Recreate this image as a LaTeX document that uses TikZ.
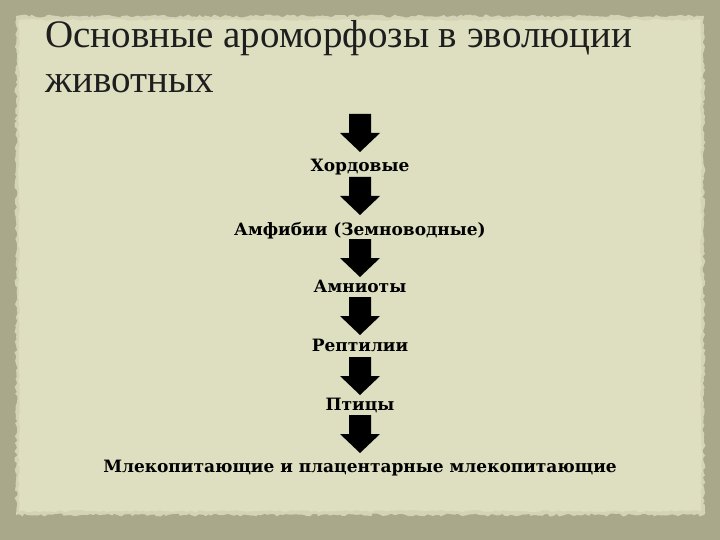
\documentclass[tikz,border=0pt]{standalone}
\usepackage{fontspec}
\setmainfont{DejaVu Serif}
\newfontfamily\titlefont{Liberation Serif}
\usetikzlibrary{decorations.pathmorphing}
\definecolor{paper}{RGB}{222,222,192}
\definecolor{framecol}{RGB}{170,168,138}
\definecolor{titlecol}{RGB}{30,30,30}
\begin{document}
\begin{tikzpicture}[x=1pt,y=-1pt,
  lbl/.style={font=\bfseries\fontsize{17}{19}\selectfont, anchor=base, inner sep=0pt},
  ttl/.style={font=\titlefont\fontsize{39}{40}\selectfont, text=titlecol, anchor=base west, inner sep=0pt},
  downarrow/.pic={\fill[black] (-11,0) -- (11,0) -- (11,19) -- (20,19) -- (0,38) -- (-20,19) -- (-11,19) -- cycle;}]
\useasboundingbox (0,0) rectangle (720,540);
\fill[framecol] (0,0) rectangle (720,540);
\pgfmathsetseed{7}
\fill[paper!80!framecol, decorate, decoration={random steps, segment length=3pt, amplitude=1.5pt}] (16,16) rectangle (704,515);
\fill[paper, decorate, decoration={random steps, segment length=4pt, amplitude=1pt}] (19,20) rectangle (701,511);
\node[ttl] (t1) at (45,48) {Основные ароморфозы в эволюции};
\node[ttl] (t2) at (45,93) {животных};
\coordinate (a1) at (360,114);
\coordinate (a2) at (360,177);
\coordinate (a3) at (360,239);
\coordinate (a4) at (360,297);
\coordinate (a5) at (360,357);
\coordinate (a6) at (360,415);
\foreach \a in {a1,a2,a3,a4,a5,a6} \path (\a) pic {downarrow};
\node[lbl] (n1) at (360,172) {Хордовые};
\node[lbl] (n2) at (360,236) {Амфибии (Земноводные)};
\node[lbl] (n3) at (360,292) {Амниоты};
\node[lbl] (n4) at (360,351) {Рептилии};
\node[lbl] (n5) at (360,410) {Птицы};
\node[lbl] (n6) at (360,472) {Млекопитающие и плацентарные млекопитающие};
\end{tikzpicture}
\end{document}
